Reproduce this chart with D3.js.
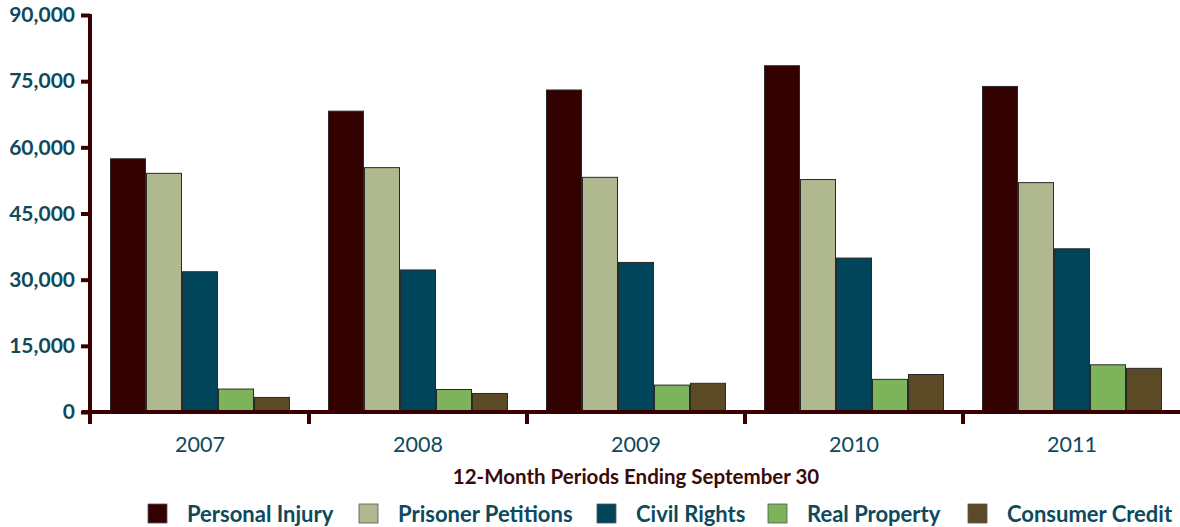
<!DOCTYPE html>
<html><head><meta charset="utf-8">
<script src="https://cdn.jsdelivr.net/npm/d3@7"></script>
<style>
html,body{margin:0;padding:0;background:#fff;}
svg{display:block;}
</style></head>
<body><svg id="chart" width="1180" height="527"></svg>
<script>
const years = ["2007","2008","2009","2010","2011"];
const seriesNames = ["Personal Injury","Prisoner Petitions","Civil Rights","Real Property","Consumer Credit"];
const personalInjury    = [57400, 68200, 73000, 78500, 73800];
const prisonerPetitions = [54100, 55400, 53200, 52700, 52000];
const civilRights       = [31800, 32200, 33900, 34900, 37000];
const realProperty      = [5200, 5100, 6100, 7400, 10700];
const consumerCredit    = [3300, 4200, 6500, 8500, 9900];
const yTicks = [0, 15000, 30000, 45000, 60000, 75000, 90000];
const colors = ["#330000", "#b0b88f", "#00455a", "#7db35a", "#5c4a26"];

const seriesValues = [personalInjury, prisonerPetitions, civilRights, realProperty, consumerCredit];

const svg = d3.select("#chart");
const x0 = d3.scaleBand().domain(years).range([91, 1181]);
const x1 = d3.scaleBand().domain(seriesNames).range([19, x0.bandwidth() - 19]);
const y = d3.scaleLinear().domain([0, 90000]).range([412, 15]);

// bars
const groups = svg.append("g").selectAll("g").data(years).join("g")
  .attr("transform", d => `translate(${x0(d)},0)`);
groups.selectAll("rect")
  .data((yr, i) => seriesNames.map((s, j) => ({s, v: seriesValues[j][i], c: colors[j]})))
  .join("rect")
  .attr("x", d => x1(d.s) + 0.5)
  .attr("width", x1.bandwidth() - 1)
  .attr("y", d => y(d.v))
  .attr("height", d => y(0) - y(d.v))
  .attr("fill", d => d.c)
  .attr("stroke", "#2a2a2a")
  .attr("stroke-width", 1);

const axisColor = "#3a0000";
// y axis
const yAxis = svg.append("g").attr("transform", "translate(90,0)")
  .call(d3.axisLeft(y).tickValues(yTicks).tickSize(9).tickPadding(6).tickFormat(d3.format(",")));
yAxis.select(".domain").attr("stroke", axisColor).attr("stroke-width", 4)
  .attr("d", `M0,${y(90000)-1}V${y(0)+12}`);
yAxis.selectAll(".tick line").attr("stroke", axisColor).attr("stroke-width", 4);
yAxis.selectAll(".tick text").attr("fill", "#0d4a5c")
  .style("font-family", "Lato, 'Open Sans', sans-serif").style("font-weight", "bold").style("font-size", "21px");

// x axis
const xAxis = svg.append("g").attr("transform", `translate(0,${y(0)})`)
  .call(d3.axisBottom(x0).tickSize(0).tickPadding(25));
xAxis.select(".domain").attr("stroke", axisColor).attr("stroke-width", 4)
  .attr("d", "M82,0H1180");
xAxis.selectAll(".tick text").attr("fill", "#0d4a5c")
  .style("font-family", "Lato, 'Open Sans', sans-serif").style("font-size", "21.5px");
// group separator ticks
svg.append("g").selectAll("line").data(years.slice(1)).join("line")
  .attr("x1", d => x0(d)).attr("x2", d => x0(d))
  .attr("y1", y(0)).attr("y2", y(0) + 12)
  .attr("stroke", axisColor).attr("stroke-width", 4);

// axis title
svg.append("text").attr("x", 636).attr("y", 484).attr("text-anchor", "middle")
  .attr("fill", "#3a0a0a").style("font-family", "Lato, 'Open Sans', sans-serif")
  .style("font-weight", "bold").style("font-size", "20.5px")
  .text("12-Month Periods Ending September 30");

// legend
const legendX = [148, 359, 597, 768, 968];
const lg = svg.append("g").selectAll("g").data(seriesNames).join("g")
  .attr("transform", (d, i) => `translate(${legendX[i]},504)`);
lg.append("rect").attr("width", 19).attr("height", 19)
  .attr("fill", (d, i) => colors[i]).attr("stroke", "#555").attr("stroke-width", 0.8);
lg.append("text").attr("x", 39).attr("y", 18).text(d => d)
  .attr("fill", "#0d4a5c").style("font-family", "Lato, 'Open Sans', sans-serif")
  .style("font-weight", "bold").style("font-size", "22px");
</script></body></html>
